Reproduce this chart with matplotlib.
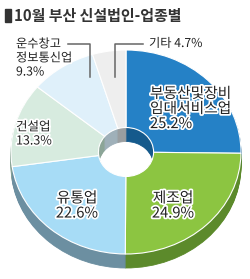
import matplotlib
matplotlib.use('Agg')
import matplotlib.pyplot as plt
import matplotlib.patheffects as pe
from matplotlib.patches import Rectangle

plt.rcParams['font.family'] = ['Noto Sans CJK KR', 'DejaVu Sans']

###############################
# Data

title = '10월 부산 신설법인-업종별'
sectors = ['부동산및장비\n임대서비스업', '제조업', '유통업', '건설업',
           '운수창고\n정보통신업', '기타']
shares = [25.2, 24.9, 22.6, 13.3, 9.3, 4.7]

top_colors = ['#2581c6', '#8cc541', '#a7dcf6', '#d7ebdf', '#dff0fa', '#eeeeee']
side_colors = ['#155a8c', '#5c8a2b', '#6c8fa1', '#8ca597', '#9fb0b9', '#9a9ea0']

###############################
# Layout (pixels)

W, H = 250, 279
cx, cy, rx, ry = 126, 152, 115, 102
depth = 14
hole = 0.24

fig = plt.figure(figsize=(W / 100, H / 100), dpi=100)
fig.patch.set_facecolor('white')

# Donut axes: data units = radius, stretched into an ellipse
ax = fig.add_axes([(cx - rx) / W, 1 - (cy + ry + depth) / H,
                   2 * rx / W, (2 * ry + depth) / H])

# Extruded side: stack of darker pies shifted downward
for k in range(depth, 0, -1):
    wedges, _ = ax.pie(shares, radius=1, center=(0, -k / ry), startangle=90,
                       counterclock=False, colors=side_colors,
                       wedgeprops=dict(width=1 - hole, linewidth=0.6))
    for w in wedges:
        w.set_edgecolor(w.get_facecolor())
        w.set_clip_on(False)

# Top face
wedges, _ = ax.pie(shares, radius=1, center=(0, 0), startangle=90,
                   counterclock=False, colors=top_colors,
                   wedgeprops=dict(width=1 - hole, edgecolor='white',
                                   linewidth=0.8))
for w in wedges:
    w.set_clip_on(False)

ax.set_aspect('auto')
ax.set_xlim(-1, 1)
ax.set_ylim(-1 - depth / ry, 1)
ax.axis('off')

# Overlay axes in pixel coordinates for text
tx = fig.add_axes([0, 0, 1, 1])
tx.set_xlim(0, W)
tx.set_ylim(H, 0)
tx.axis('off')

outline = [pe.withStroke(linewidth=2.5, foreground='white')]
txtcol = '#222222'

# Title
tx.add_patch(Rectangle((5, 9), 6, 13, color='#333333'))
tx.text(14, 15.5, title, fontsize=10.8, fontweight='bold', color='#333333',
        va='center', ha='left')

def label(x, y, name, val, size, ha='left'):
    tx.text(x, y, name + '\n' + f'{val}%', fontsize=size, color=txtcol,
            ha=ha, va='center', linespacing=1.1, fontweight='medium',
            path_effects=outline)

label(150, 109, sectors[0], shares[0], 10.6)
label(173, 206, sectors[1], shares[1], 10.6, ha='center')
label(77, 206, sectors[2], shares[2], 10.6, ha='center')
label(16, 134, sectors[3], shares[3], 9)
label(16, 58, sectors[4], shares[4], 8.8)
tx.text(149, 43.5, f'{sectors[5]} {shares[5]}%', fontsize=8.8, color=txtcol,
        ha='left', va='center', fontweight='medium', path_effects=outline)

# Leader lines
tx.plot([68, 90, 90], [43.5, 43.5, 77], color='#666666', lw=1.1)
tx.plot([115, 115, 143], [77, 43.5, 43.5], color='#666666', lw=1.1)

fig.savefig('out.png', dpi=100)
